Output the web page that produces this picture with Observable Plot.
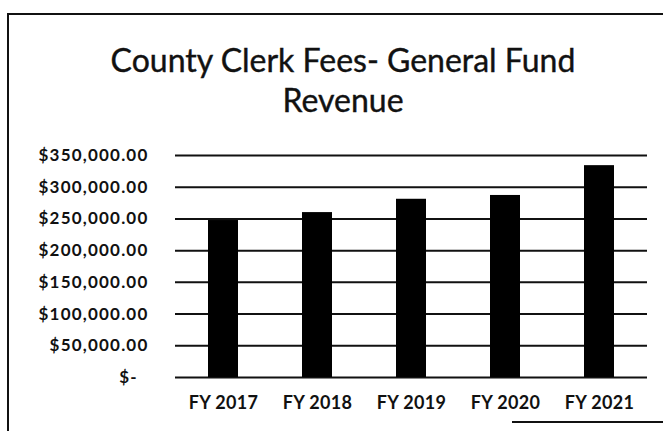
<!DOCTYPE html>
<html><head><meta charset="utf-8">
<script src="https://cdn.jsdelivr.net/npm/d3@7"></script>
<script src="https://cdn.jsdelivr.net/npm/@observablehq/plot@0.6"></script>
<style>
body{margin:0;background:#fff;}
#wrap{position:relative;width:663px;height:431px;overflow:hidden;background:#fff;font-family:Lato,sans-serif;}
#frame{position:absolute;left:7px;top:13px;width:700px;height:500px;border-left:2px solid #111;border-top:2px solid #111;pointer-events:none;}
#bottomline{position:absolute;left:512px;top:421px;width:160px;height:0;border-top:2px solid #111;}
#title{box-sizing:border-box;height:130px;padding-top:40px;padding-left:23px;text-align:center;font-size:32px;line-height:40px;color:#111;-webkit-text-stroke:0.4px #111;}
#chart svg{display:block;}
[aria-label="y-axis tick label"]{letter-spacing:1.2px;}
[aria-label="x-axis tick label"]{letter-spacing:0.3px;}
</style></head>
<body>
<div id="wrap">
  <div id="frame"></div>
  <div id="bottomline"></div>
  <div id="title">County Clerk Fees- General Fund<br>Revenue</div>
  <div id="chart"></div>
</div>
<script>
const years = ["FY 2017", "FY 2018", "FY 2019", "FY 2020", "FY 2021"];
const revenue = [247500, 260000, 281000, 287000, 334000];
const yTicks = [0, 50000, 100000, 150000, 200000, 250000, 300000, 350000];

const data = years.map((y, i) => ({year: y, value: revenue[i]}));
const fmt = d => d === 0 ? "$-\u00a0\u00a0" : "$" + d3.format(",.2f")(d);

const chart = Plot.plot({
  width: 663,
  height: 301,
  marginTop: 25,
  marginBottom: 54,
  marginLeft: 175,
  marginRight: 16,
  style: {fontFamily: "Lato, sans-serif", background: "transparent", color: "#111"},
  x: {domain: years, paddingInner: 0.68, paddingOuter: 0.34},
  y: {domain: [0, 350000]},
  marks: [
    Plot.ruleY(yTicks, {stroke: "#111", strokeWidth: 2}),
    Plot.barY(data, {x: "year", y: "value", fill: "#000"}),
    Plot.axisY({ticks: yTicks, tickSize: 0, tickPadding: 27, tickFormat: fmt, fontSize: 17, fontWeight: "bold", label: null}),
    Plot.axisX({tickSize: 0, tickPadding: 19, fontSize: 18, fontWeight: "bold", label: null})
  ]
});
document.getElementById("chart").appendChild(chart);
</script>
</body></html>
